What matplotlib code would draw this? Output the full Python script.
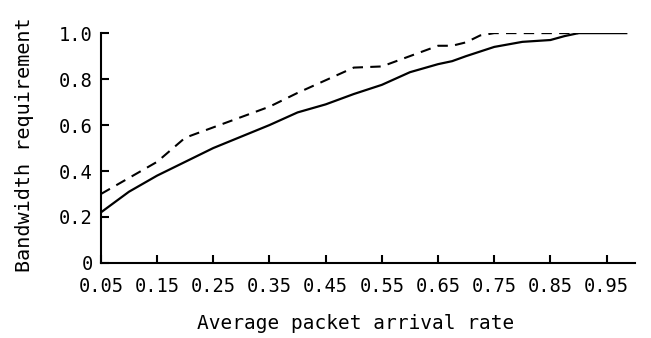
import numpy as np
import matplotlib
matplotlib.use("Agg")
import matplotlib.pyplot as plt

# arrival rate vs bandwidth requirement
x_solid = [0.05, 0.10, 0.15, 0.20, 0.25, 0.30, 0.35, 0.40, 0.45, 0.50, 0.55, 0.60,
           0.65, 0.675, 0.70, 0.75, 0.80, 0.85, 0.875, 0.90, 0.985]
y_solid = [0.22, 0.31, 0.38, 0.44, 0.50, 0.55, 0.60, 0.655, 0.69, 0.735, 0.775, 0.83,
           0.865, 0.878, 0.90, 0.94, 0.962, 0.97, 0.987, 1.0, 1.0]

x_dash = [0.05, 0.10, 0.15, 0.20, 0.25, 0.30, 0.35, 0.40, 0.45, 0.50, 0.55, 0.60,
          0.65, 0.675, 0.70, 0.725, 0.75, 0.90]
y_dash = [0.30, 0.37, 0.44, 0.545, 0.59, 0.635, 0.68, 0.74, 0.795, 0.85, 0.855, 0.90,
          0.945, 0.945, 0.96, 0.99, 1.0, 1.0]

xticks = [0.05, 0.15, 0.25, 0.35, 0.45, 0.55, 0.65, 0.75, 0.85, 0.95]
yticks = [0, 0.2, 0.4, 0.6, 0.8, 1.0]
ylabels = ["0", "0.2", "0.4", "0.6", "0.8", "1.0"]

mono = "DejaVu Sans Mono"

fig = plt.figure(figsize=(6.51, 3.38), dpi=100)
ax = fig.add_axes([0.155, 0.222, 0.82, 0.68])

ax.plot(x_solid, y_solid, color="black", lw=1.6)
ax.plot(x_dash, y_dash, color="black", lw=1.5, dashes=(5, 3.5))

ax.set_xlim(0.05, 1.0)
ax.set_ylim(0, 1.0)
ax.spines["top"].set_visible(False)
ax.spines["right"].set_visible(False)
for s in ["left", "bottom"]:
    ax.spines[s].set_linewidth(1.5)

ax.set_xticks(xticks)
ax.set_xticklabels(["%.2f" % v for v in xticks], family=mono, fontsize=13.5)
ax.set_yticks(yticks)
ax.set_yticklabels(ylabels, family=mono, fontsize=13.5)
ax.tick_params(direction="in", length=6, width=1.5)
ax.tick_params(axis="x", pad=10)
ax.tick_params(axis="y", pad=6)

fig.text(0.546, 0.044, "Average packet arrival rate", family=mono, fontsize=14,
         ha="center", va="center")
fig.text(0.037, 0.571, "Bandwidth requirement", family=mono, fontsize=14.5,
         rotation=90, ha="center", va="center")

fig.savefig("out.png", dpi=100)
